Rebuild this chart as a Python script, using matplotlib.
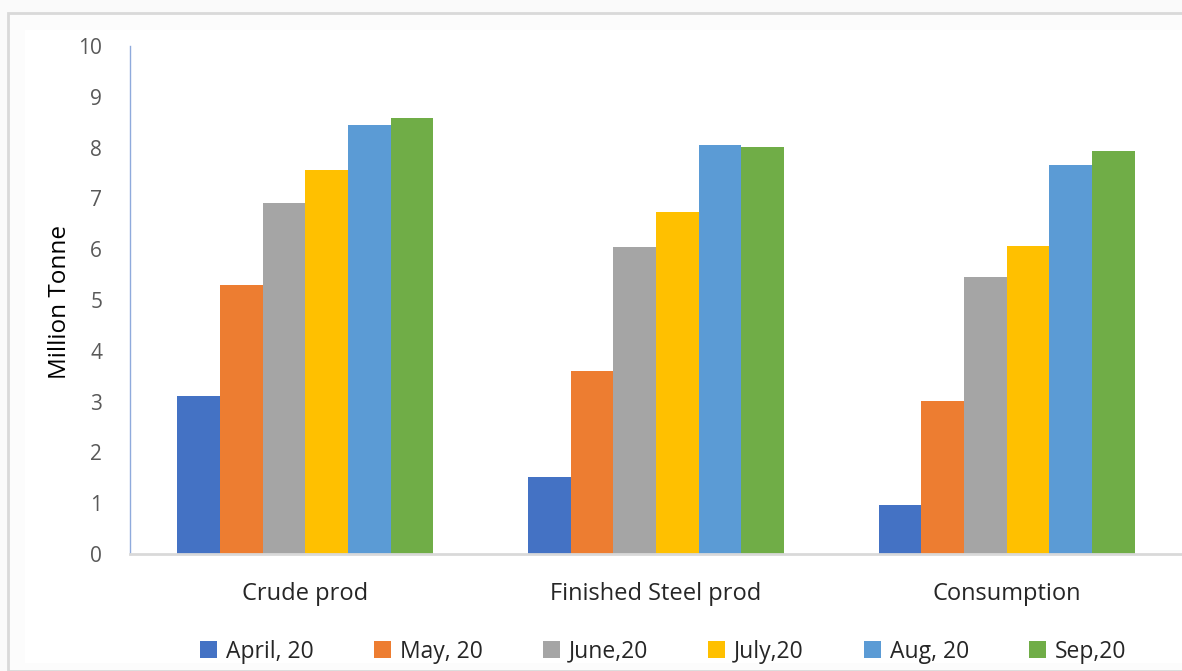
import numpy as np
import matplotlib.pyplot as plt
from matplotlib.patches import Rectangle

plt.rcParams['font.family'] = ['Open Sans', 'DejaVu Sans']

categories = ['Crude prod', 'Finished Steel prod', 'Consumption']
months = ['April, 20', 'May, 20', 'June,20', 'July,20', 'Aug, 20', 'Sep,20']
colors = ['#4472c4', '#ed7d31', '#a5a5a5', '#ffc000', '#5b9bd5', '#70ad47']

# monthly values per category (million tonne)
april = [3.12, 1.52, 0.96]
may = [5.30, 3.60, 3.01]
june = [6.90, 6.04, 5.46]
july = [7.55, 6.74, 6.06]
aug = [8.45, 8.05, 7.66]
sep = [8.59, 8.02, 7.94]
series = [april, may, june, july, aug, sep]

W, H = 1182, 671
fig = plt.figure(figsize=(W / 100, H / 100), dpi=100, facecolor='#fafafa')

# outer frame and white chart area
fig.patches.append(Rectangle((8 / W, 0), 1.0, 1 - 13 / H, transform=fig.transFigure,
                             facecolor='#fcfcfc', edgecolor='#d9d9d9', lw=2, zorder=-2))
fig.patches.append(Rectangle((25 / W, 8 / H), 1.0, 1 - 38 / H, transform=fig.transFigure,
                             facecolor='white', edgecolor='none', zorder=-1))

ax = fig.add_axes([130 / W, 1 - 554 / H, 1 - 130 / W, (554 - 46) / H])
ax.set_zorder(1)
ax.set_facecolor('white')

x = np.arange(len(categories))
bw = 0.73 / len(series)
for i, (vals, lab, c) in enumerate(zip(series, months, colors)):
    ax.bar(x + (i - 2.5) * bw, vals, bw, color=c, label=lab, zorder=2)

ax.set_xlim(-0.5, 2.5)
ax.set_ylim(0, 10)
ax.set_yticks(range(0, 11))
ax.set_xticks(x)
ax.set_xticklabels(categories, fontsize=17, color='#262626')
ax.tick_params(axis='x', length=0, pad=20)
ax.tick_params(axis='y', length=0, pad=20, labelsize=15, labelcolor='#595959')

for s in ['top', 'right']:
    ax.spines[s].set_visible(False)
ax.spines['bottom'].set_color('#d9d9d9')
ax.spines['bottom'].set_linewidth(2)
ax.spines['left'].set_color('#8faadc')
ax.spines['left'].set_linewidth(1)

fig.text(60 / W, 1 - 302 / H, 'Million Tonne', rotation=90, ha='center', va='center',
         fontsize=17.5, color='black')

ax.legend(loc='center', bbox_to_anchor=(0.507, -0.192),
          ncol=6, frameon=False, fontsize=16.5, handlelength=0.75, handleheight=0.75,
          columnspacing=2.6, handletextpad=0.4, labelcolor='#262626')

fig.savefig('out.png', dpi=100, facecolor=fig.get_facecolor())
